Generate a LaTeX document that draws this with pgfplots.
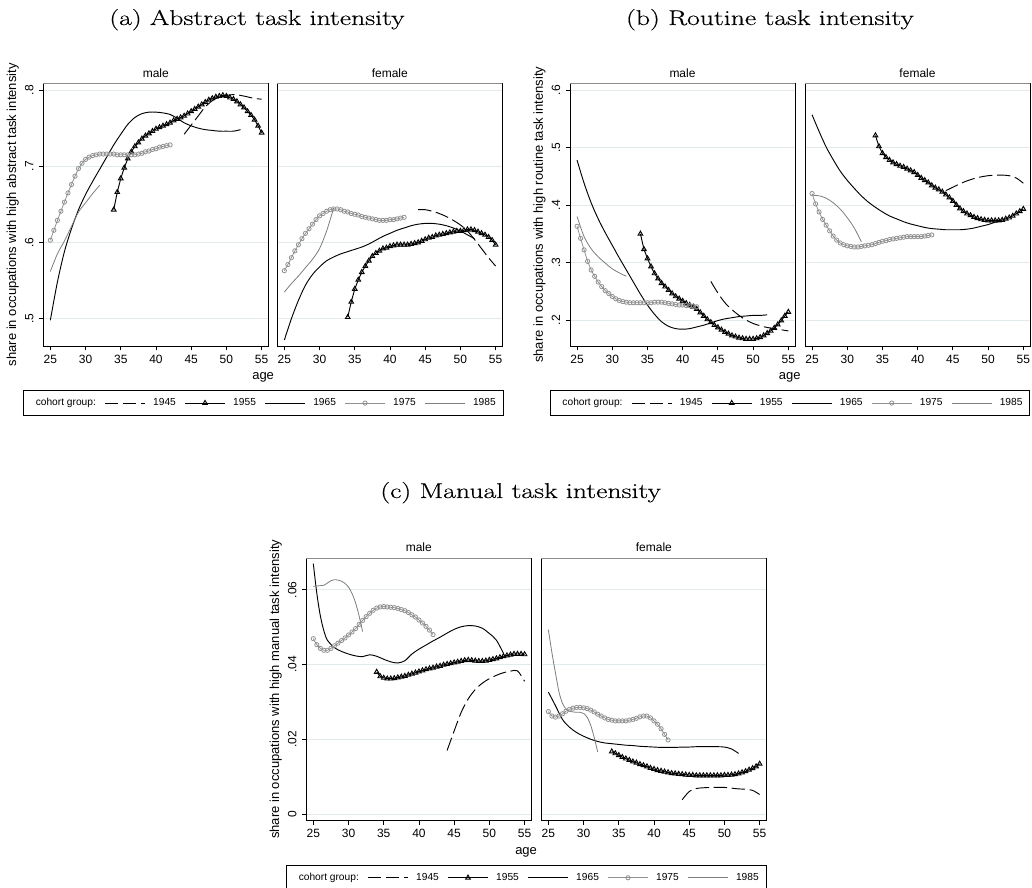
\documentclass[border=0pt]{standalone}
\usepackage{fontspec}
\setmainfont{Liberation Sans}
\newfontfamily\titlefont{Latin Modern Roman}[FakeBold=0.4]
\usepackage{graphicx}
\usepackage{pgfplots}
\pgfplotsset{compat=1.18}
\definecolor{gridc}{RGB}{226,234,237}
\definecolor{c75}{RGB}{145,145,145}
\definecolor{c85}{RGB}{125,125,125}
\pgfplotsset{
  panel/.style={scale only axis, width=168.75pt, height=197pt, xmin=24, xmax=55.95,
    xtick={25,30,35,40,45,50,55}, tick align=outside, major tick length=3.2pt, tick pos=left,
    scaled y ticks=false,
    ymajorgrids, grid style={gridc, line width=0.6pt},
    axis line style={black, line width=0.6pt}, tick style={black, line width=0.6pt},
    ticklabel style={font=\fontsize{9}{10}\selectfont},
    /pgf/number format/assume math mode=true,
    xticklabel style={anchor=base, yshift=-9.8pt},
    yticklabel style={xshift=-4.3pt, rotate=90, anchor=base},
    title style={font=\fontsize{9}{10}\selectfont, at={(0.5,1)}, anchor=base, yshift=-1.5pt},
    legend image code/.code={\draw[mark repeat=2,mark phase=2,##1] plot coordinates {(0pt,0pt) (15pt,0pt) (30pt,0pt)};},
    extra description/.code={\draw[black!45, line width=0.6pt] (axis description cs:0,1) -- (axis description cs:1,1);},
  },
  malepanel/.style={panel, title=male,
    xlabel={age}, xlabel style={at={(axis description cs:0.977,-0.1294)}, anchor=base, font=\fontsize{9.75}{11}\selectfont},
    ylabel style={at={(axis description cs:-0.121,0.5)}, anchor=base, font=\fontsize{9.75}{11}\selectfont},
    legend columns=6, legend cell align=left,
    legend style={at={(axis description cs:-0.0903,-0.1675)}, anchor=north west, draw=black, line width=0.6pt,
      font=\fontsize{7.65}{9}\selectfont, inner xsep=3.5pt, inner ysep=4pt,
      /tikz/every odd column/.append style={column sep=3.8pt},
      /tikz/every even column/.append style={column sep=4.5pt}},
  },
  femalepanel/.style={panel, title=female, yticklabels={}, ytick style={draw=none}},
  s45/.style={black, line width=0.7pt, dash pattern=on 10pt off 3.5pt, mark=none, smooth},
  s55/.style={black, line width=0.7pt, mark=triangle, mark size=2pt, mark options={solid, line width=0.7pt}},
  s65/.style={black, line width=0.7pt, mark=none, smooth},
  s75/.style={c75, line width=0.6pt, mark=o, mark size=1.6pt, mark options={solid, line width=0.6pt}},
  s85/.style={c85, line width=0.6pt, mark=none, smooth},
}
\begin{document}
\begin{tikzpicture}
\useasboundingbox (0,0) rectangle (774pt,666pt);
\node[anchor=base] at (192.75pt,647.25pt) {\titlefont\fontsize{16}{19}\selectfont\scalebox{1.3}[1]{(a) Abstract task intensity}};
\node[anchor=base] at (577.5pt,647.25pt) {\titlefont\fontsize{16}{19}\selectfont\scalebox{1.3}[1]{(b) Routine task intensity}};
\node[anchor=base] at (390.5pt,292.5pt) {\titlefont\fontsize{16}{19}\selectfont\scalebox{1.3}[1]{(c) Manual task intensity}};

% ---------------- (a) male
\begin{axis}[malepanel, at={(32.48pt,406.5pt)}, anchor=south west,
  ymin=0.4642, ymax=0.8088, ytick={0.5,0.6,0.7,0.8}, yticklabels={.5,.6,.7,.8},
  ylabel={share in occupations with high abstract task intensity}]
\addlegendimage{empty legend}\addlegendentry{cohort group:}
\addplot[s45] coordinates {(44,.742)(45,.754)(46,.766)(47,.778)(48,.786)(49,.791)(50,.793)(51,.794)(52,.793)(53,.791)(54,.789)(55,.788)};
\addlegendentry{1945}
\addplot[s55] coordinates {(34,.643)(34.5,.666)(35,.684)(35.5,.698)(36,.710)(36.5,.719)(37,.726)(37.5,.731)(38,.736)(38.5,.740)(39,.743)(39.5,.746)(40,.749)(40.5,.751)(41,.753)(41.5,.755)(42,.757)(42.5,.760)(43,.762)(43.5,.764)(44,.766)(44.5,.769)(45,.772)(45.5,.775)(46,.778)(46.5,.781)(47,.784)(47.5,.787)(48,.789)(48.5,.791)(49,.792)(49.5,.793)(50,.792)(50.5,.790)(51,.788)(51.5,.785)(52,.781)(52.5,.777)(53,.772)(53.5,.767)(54,.761)(54.5,.753)(55,.744)};
\addlegendentry{1955}
\addplot[s65] coordinates {(25,.498)(26,.548)(27,.588)(28,.618)(29,.643)(30,.663)(31,.680)(32,.696)(33,.712)(34,.728)(35,.742)(36,.755)(37,.764)(38,.769)(39,.771)(40,.771)(41,.770)(42,.768)(43,.763)(44,.757)(45,.753)(46,.750)(47,.748)(48,.747)(49,.746)(50,.746)(51,.746)(52,.748)};
\addlegendentry{1965}
\addplot[s75] coordinates {(25,.603)(25.5,.616)(26,.629)(26.5,.641)(27,.653)(27.5,.665)(28,.676)(28.5,.687)(29,.697)(29.5,.704)(30,.709)(30.5,.712)(31,.714)(31.5,.715)(32,.716)(32.5,.716)(33,.716)(33.5,.716)(34,.716)(34.5,.715)(35,.715)(35.5,.715)(36,.715)(36.5,.715)(37,.715)(37.5,.716)(38,.717)(38.5,.719)(39,.720)(39.5,.722)(40,.723)(40.5,.725)(41,.726)(41.5,.727)(42,.728)};
\addlegendentry{1975}
\addplot[s85] coordinates {(25,.562)(26,.585)(27,.602)(28,.621)(29,.640)(30,.652)(31,.664)(32,.675)};
\addlegendentry{1985}
\end{axis}

% ---------------- (a) female
\begin{axis}[femalepanel, at={(207.98pt,406.5pt)}, anchor=south west,
  ymin=0.4642, ymax=0.8088, ytick={0.5,0.6,0.7,0.8}]
\addplot[s45] coordinates {(44,.643)(45,.643)(46,.641)(47,.638)(48,.634)(49,.629)(50,.623)(51,.615)(52,.604)(53,.592)(54,.580)(55,.569)};
\addplot[s55] coordinates {(34,.502)(34.5,.522)(35,.539)(35.5,.551)(36,.561)(36.5,.569)(37,.576)(37.5,.582)(38,.586)(38.5,.589)(39,.592)(39.5,.593)(40,.595)(40.5,.596)(41,.597)(41.5,.597)(42,.597)(42.5,.597)(43,.598)(43.5,.599)(44,.600)(44.5,.602)(45,.604)(45.5,.606)(46,.607)(46.5,.609)(47,.610)(47.5,.611)(48,.612)(48.5,.613)(49,.614)(49.5,.615)(50,.615)(50.5,.616)(51,.617)(51.5,.617)(52,.616)(52.5,.614)(53,.612)(53.5,.610)(54,.607)(54.5,.603)(55,.597)};
\addplot[s65] coordinates {(25,.472)(26,.500)(27,.524)(28,.544)(29,.558)(30,.568)(31,.576)(32,.581)(33,.585)(34,.588)(35,.591)(36,.594)(37,.598)(38,.603)(39,.608)(40,.612)(41,.616)(42,.619)(43,.622)(44,.624)(45,.625)(46,.625)(47,.624)(48,.622)(49,.619)(50,.615)(51,.610)(52,.605)};
\addplot[s75] coordinates {(25,.563)(25.5,.571)(26,.580)(26.5,.589)(27,.597)(27.5,.605)(28,.612)(28.5,.618)(29,.624)(29.5,.630)(30,.635)(30.5,.638)(31,.641)(31.5,.643)(32,.644)(32.5,.644)(33,.643)(33.5,.641)(34,.640)(34.5,.638)(35,.637)(35.5,.636)(36,.634)(36.5,.633)(37,.632)(37.5,.631)(38,.630)(38.5,.629)(39,.629)(39.5,.629)(40,.630)(40.5,.630)(41,.631)(41.5,.632)(42,.633)};
\addplot[s85] coordinates {(25,.535)(26,.546)(27,.556)(28,.567)(29,.578)(30,.592)(31,.615)(32,.645)};
\end{axis}

% ---------------- (b) male
\begin{axis}[malepanel, at={(427.5pt,406.5pt)}, anchor=south west,
  ymin=0.1548, ymax=0.6117, ytick={0.2,0.3,0.4,0.5,0.6}, yticklabels={.2,.3,.4,.5,.6},
  ylabel={share in occupations with high routine task intensity}]
\addlegendimage{empty legend}\addlegendentry{cohort group:}
\addplot[s45] coordinates {(44,.267)(45,.247)(46,.230)(47,.218)(48,.208)(49,.200)(50,.194)(51,.190)(52,.187)(53,.185)(54,.183)(55,.181)};
\addlegendentry{1945}
\addplot[s55] coordinates {(34,.350)(34.5,.323)(35,.307)(35.5,.293)(36,.281)(36.5,.272)(37,.264)(37.5,.258)(38,.252)(38.5,.246)(39,.241)(39.5,.237)(40,.233)(40.5,.229)(41,.226)(41.5,.223)(42,.219)(42.5,.213)(43,.207)(43.5,.201)(44,.196)(44.5,.191)(45,.187)(45.5,.183)(46,.179)(46.5,.176)(47,.173)(47.5,.171)(48,.169)(48.5,.168)(49,.167)(49.5,.167)(50,.167)(50.5,.168)(51,.170)(51.5,.173)(52,.177)(52.5,.181)(53,.186)(53.5,.192)(54,.199)(54.5,.207)(55,.214)};
\addlegendentry{1955}
\addplot[s65] coordinates {(25,.478)(26,.438)(27,.404)(28,.376)(29,.352)(30,.330)(31,.308)(32,.287)(33,.266)(34,.245)(35,.226)(36,.210)(37,.197)(38,.189)(39,.185)(40,.184)(41,.185)(42,.188)(43,.191)(44,.195)(45,.199)(46,.202)(47,.204)(48,.206)(49,.207)(50,.208)(51,.208)(52,.209)};
\addlegendentry{1965}
\addplot[s75] coordinates {(25,.363)(25.5,.342)(26,.322)(26.5,.302)(27,.287)(27.5,.276)(28,.266)(28.5,.258)(29,.251)(29.5,.246)(30,.241)(30.5,.237)(31,.234)(31.5,.232)(32,.231)(32.5,.230)(33,.230)(33.5,.230)(34,.230)(34.5,.230)(35,.230)(35.5,.230)(36,.231)(36.5,.231)(37,.231)(37.5,.230)(38,.229)(38.5,.228)(39,.227)(39.5,.226)(40,.226)(40.5,.225)(41,.225)(41.5,.224)(42,.223)};
\addlegendentry{1975}
\addplot[s85] coordinates {(25,.380)(26,.345)(27,.324)(28,.310)(29,.299)(30,.289)(31,.282)(32,.276)};
\addlegendentry{1985}
\end{axis}

% ---------------- (b) female
\begin{axis}[femalepanel, at={(603.75pt,406.5pt)}, anchor=south west,
  ymin=0.1548, ymax=0.6117, ytick={0.2,0.3,0.4,0.5,0.6}]
\addplot[s45] coordinates {(44,.425)(45,.431)(46,.437)(47,.442)(48,.446)(49,.449)(50,.451)(51,.452)(52,.452)(53,.451)(54,.447)(55,.438)};
\addplot[s55] coordinates {(34,.521)(34.5,.502)(35,.490)(35.5,.483)(36,.478)(36.5,.474)(37,.471)(37.5,.468)(38,.466)(38.5,.463)(39,.460)(39.5,.457)(40,.452)(40.5,.447)(41,.443)(41.5,.439)(42,.434)(42.5,.430)(43,.427)(43.5,.423)(44,.418)(44.5,.413)(45,.407)(45.5,.400)(46,.394)(46.5,.389)(47,.385)(47.5,.382)(48,.379)(48.5,.377)(49,.375)(49.5,.374)(50,.373)(50.5,.373)(51,.373)(51.5,.373)(52,.374)(52.5,.376)(53,.378)(53.5,.381)(54,.385)(54.5,.389)(55,.393)};
\addplot[s65] coordinates {(25,.557)(26,.528)(27,.501)(28,.479)(29,.459)(30,.443)(31,.429)(32,.416)(33,.405)(34,.396)(35,.388)(36,.381)(37,.376)(38,.371)(39,.367)(40,.364)(41,.361)(42,.359)(43,.358)(44,.357)(45,.357)(46,.357)(47,.358)(48,.360)(49,.363)(50,.366)(51,.370)(52,.373)};
\addplot[s75] coordinates {(25,.420)(25.5,.402)(26,.388)(26.5,.375)(27,.365)(27.5,.355)(28,.346)(28.5,.339)(29,.334)(29.5,.331)(30,.329)(30.5,.328)(31,.327)(31.5,.327)(32,.328)(32.5,.329)(33,.330)(33.5,.331)(34,.333)(34.5,.335)(35,.337)(35.5,.338)(36,.340)(36.5,.341)(37,.342)(37.5,.343)(38,.344)(38.5,.345)(39,.345)(39.5,.345)(40,.345)(40.5,.345)(41,.346)(41.5,.347)(42,.348)};
\addplot[s85] coordinates {(25,.417)(26,.416)(27,.412)(28,.404)(29,.393)(30,.378)(31,.360)(32,.336)};
\end{axis}

% ---------------- (c) male
\begin{axis}[malepanel, at={(229.7pt,50.5pt)}, anchor=south west,
  ymin=-0.0018, ymax=0.0685, ytick={0,0.02,0.04,0.06}, yticklabels={0,.02,.04,.06},
  ylabel={share in occupations with high manual task intensity}]
\addlegendimage{empty legend}\addlegendentry{cohort group:}
\addplot[s45] coordinates {(44,.0170)(45,.0222)(46,.0272)(47,.0308)(48,.0333)(49,.0350)(50,.0362)(51,.0371)(52,.0378)(53,.0382)(54,.0383)(55,.0355)};
\addlegendentry{1945}
\addplot[s55] coordinates {(34,.0380)(34.5,.0368)(35,.0364)(35.5,.0362)(36,.0362)(36.5,.0363)(37,.0365)(37.5,.0367)(38,.0369)(38.5,.0372)(39,.0375)(39.5,.0378)(40,.0381)(40.5,.0384)(41,.0387)(41.5,.0389)(42,.0391)(42.5,.0394)(43,.0396)(43.5,.0399)(44,.0401)(44.5,.0403)(45,.0405)(45.5,.0407)(46,.0409)(46.5,.0411)(47,.0412)(47.5,.0411)(48,.0410)(48.5,.0409)(49,.0409)(49.5,.0410)(50,.0412)(50.5,.0414)(51,.0416)(51.5,.0419)(52,.0422)(52.5,.0424)(53,.0426)(53.5,.0428)(54,.0428)(54.5,.0428)(55,.0427)};
\addlegendentry{1955}
\addplot[s65] coordinates {(25,.0670)(25.5,.0590)(26,.0530)(26.5,.0490)(27,.0465)(28,.0445)(29,.0435)(30,.0428)(31,.0423)(32,.0421)(33,.0426)(34,.0422)(35,.0414)(36,.0407)(37,.0404)(38,.0410)(39,.0428)(40,.0441)(41,.0452)(42,.0463)(43,.0473)(44,.0484)(45,.0494)(46,.0501)(47,.0504)(48,.0503)(49,.0497)(50,.0483)(51,.0465)(52,.0430)};
\addlegendentry{1965}
\addplot[s75] coordinates {(25,.0469)(25.5,.0453)(26,.0443)(26.5,.0438)(27,.0438)(27.5,.0443)(28,.0450)(28.5,.0457)(29,.0464)(29.5,.0471)(30,.0479)(30.5,.0487)(31,.0496)(31.5,.0507)(32,.0518)(32.5,.0528)(33,.0537)(33.5,.0545)(34,.0551)(34.5,.0554)(35,.0555)(35.5,.0554)(36,.0553)(36.5,.0552)(37,.0550)(37.5,.0547)(38,.0544)(38.5,.0539)(39,.0533)(39.5,.0527)(40,.0519)(40.5,.0511)(41,.0502)(41.5,.0492)(42,.0480)};
\addlegendentry{1975}
\addplot[s85] coordinates {(25,.0609)(25.5,.0610)(26,.0611)(26.5,.0612)(27,.0618)(27.5,.0624)(28,.0627)(28.5,.0626)(29,.0623)(29.5,.0617)(30,.0607)(30.5,.0590)(31,.0565)(31.5,.0530)(32,.0488)};
\addlegendentry{1985}
\end{axis}

% ---------------- (c) female
\begin{axis}[femalepanel, at={(406.0pt,50.5pt)}, anchor=south west,
  ymin=-0.0018, ymax=0.0685, ytick={0,0.02,0.04,0.06}]
\addplot[s45] coordinates {(44,.0038)(45,.0060)(46,.0068)(47,.0070)(48,.0071)(49,.0071)(50,.0071)(51,.0069)(52,.0067)(53,.0066)(54,.0063)(55,.0052)};
\addplot[s55] coordinates {(34,.0167)(34.5,.0162)(35,.0157)(35.5,.0152)(36,.0148)(36.5,.0144)(37,.0140)(37.5,.0137)(38,.0133)(38.5,.0130)(39,.0127)(39.5,.0123)(40,.0120)(40.5,.0117)(41,.0115)(41.5,.0113)(42,.0111)(42.5,.0109)(43,.0108)(43.5,.0107)(44,.0106)(44.5,.0105)(45,.0104)(45.5,.0104)(46,.0103)(46.5,.0103)(47,.0103)(47.5,.0103)(48,.0103)(48.5,.0103)(49,.0103)(49.5,.0103)(50,.0104)(50.5,.0104)(51,.0105)(51.5,.0106)(52,.0108)(52.5,.0111)(53,.0114)(53.5,.0118)(54,.0122)(54.5,.0127)(55,.0134)};
\addplot[s65] coordinates {(25,.0326)(26,.0290)(27,.0253)(28,.0232)(29,.0218)(30,.0208)(31,.0200)(32,.0194)(33,.0190)(34,.0188)(35,.0186)(36,.0184)(37,.0183)(38,.0181)(39,.0180)(40,.0179)(41,.0178)(42,.0178)(43,.0178)(44,.0179)(45,.0179)(46,.0180)(47,.0180)(48,.0180)(49,.0180)(50,.0179)(51,.0174)(52,.0162)};
\addplot[s75] coordinates {(25,.0274)(25.5,.0262)(26,.0259)(26.5,.0262)(27,.0268)(27.5,.0275)(28,.0280)(28.5,.0283)(29,.0285)(29.5,.0285)(30,.0284)(30.5,.0282)(31,.0278)(31.5,.0273)(32,.0267)(32.5,.0262)(33,.0257)(33.5,.0253)(34,.0251)(34.5,.0249)(35,.0249)(35.5,.0249)(36,.0249)(36.5,.0251)(37,.0253)(37.5,.0256)(38,.0260)(38.5,.0262)(39,.0262)(39.5,.0257)(40,.0249)(40.5,.0240)(41,.0228)(41.5,.0213)(42,.0198)};
\addplot[s85] coordinates {(25,.0493)(25.5,.0432)(26,.0378)(26.5,.0327)(27,.0296)(27.5,.0281)(28,.0275)(28.5,.0273)(29,.0272)(29.5,.0272)(30,.0269)(30.5,.0259)(31,.0238)(31.5,.0205)(32,.0166)};
\end{axis}
\end{tikzpicture}
\end{document}
